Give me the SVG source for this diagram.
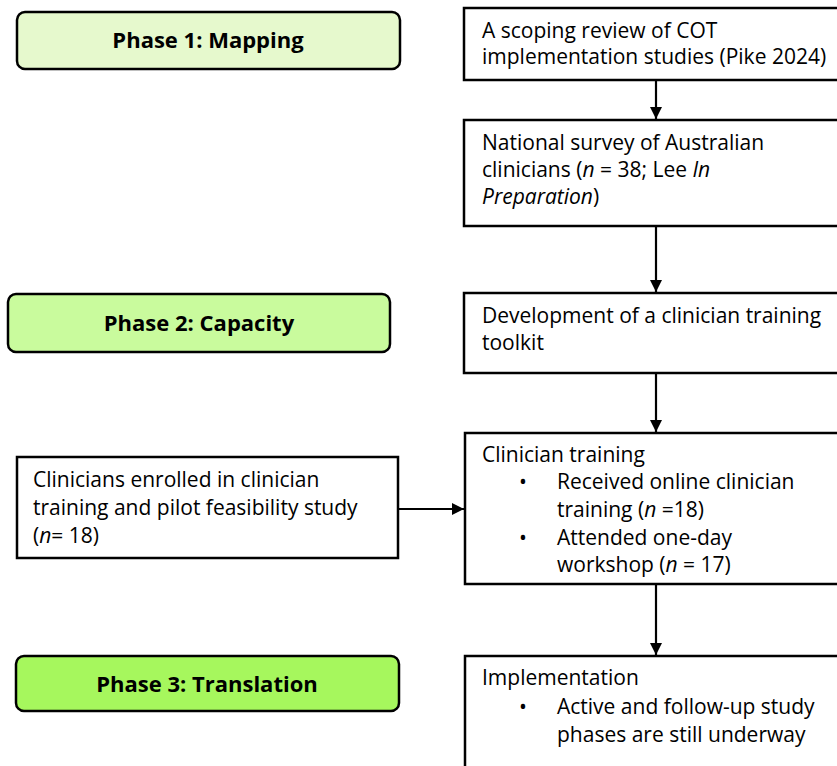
<svg xmlns="http://www.w3.org/2000/svg" width="837" height="766" viewBox="0 0 837 766">
<style>
text{font-family:"Open Sans","Liberation Sans",Arial,sans-serif;font-size:21px;fill:#000}
.ph{font-weight:bold;font-size:22px;text-anchor:middle}
.box{fill:#fff;stroke:#000;stroke-width:2.5}
.pb{stroke:#000;stroke-width:2.5}
.c{stroke:#000;stroke-width:2.2;fill:none}
</style>
<defs>
<marker id="ah" viewBox="0 0 10 10" refX="10" refY="5" markerWidth="5.5" markerHeight="5.8" orient="auto" markerUnits="strokeWidth">
<path d="M0,0 L10,5 L0,10 z" fill="#000"/>
</marker>
</defs>
<g id="phase1"><rect class="pb" x="17" y="12" width="383" height="57" rx="8" fill="#e6f9cd"/><text class="ph" x="208" y="48">Phase 1: Mapping</text></g>
<g id="phase2"><rect class="pb" x="8" y="294" width="382" height="58" rx="8" fill="#c9fb9d"/><text class="ph" x="199" y="331">Phase 2: Capacity</text></g>
<g id="phase3"><rect class="pb" x="16" y="656" width="383" height="55" rx="8" fill="#a6f75d"/><text class="ph" x="207" y="692">Phase 3: Translation</text></g>
<g id="scoping"><rect class="box" x="464" y="8" width="380" height="72"/><text x="482" y="38">A scoping review of COT</text><text x="482" y="64">implementation studies (Pike 2024)</text></g>
<g id="survey"><rect class="box" x="464" y="120" width="380" height="106"/><text x="482" y="150">National survey of Australian</text><text x="482" y="177">clinicians (<tspan font-style="italic">n</tspan> = 38; Lee <tspan font-style="italic">In</tspan></text><text x="482" y="204" font-style="italic">Preparation<tspan font-style="normal">)</tspan></text></g>
<g id="toolkit"><rect class="box" x="464" y="293" width="380" height="80"/><text x="482" y="323">Development of a clinician training</text><text x="482" y="350">toolkit</text></g>
<g id="training"><rect class="box" x="465" y="433" width="380" height="151"/><text x="482" y="462">Clinician training</text><text x="519" y="489">•</text><text x="557" y="489">Received online clinician</text><text x="557" y="517">training (<tspan font-style="italic">n</tspan> =18)</text><text x="519" y="545">•</text><text x="557" y="545">Attended one-day</text><text x="557" y="572">workshop (<tspan font-style="italic">n</tspan> = 17)</text></g>
<g id="enrolled"><rect class="box" x="17" y="457" width="381" height="101"/><text x="33" y="487">Clinicians enrolled in clinician</text><text x="33" y="515">training and pilot feasibility study</text><text x="33" y="543">(<tspan font-style="italic">n</tspan>= 18)</text></g>
<g id="implementation"><rect class="box" x="465" y="656" width="380" height="130"/><text x="482" y="685">Implementation</text><text x="519" y="714">•</text><text x="557" y="714">Active and follow-up study</text><text x="557" y="742">phases are still underway</text></g>
<g id="connectors">
<line class="c" x1="656" y1="80" x2="656" y2="119" marker-end="url(#ah)"/>
<line class="c" x1="656" y1="226" x2="656" y2="292" marker-end="url(#ah)"/>
<line class="c" x1="656" y1="373" x2="656" y2="432" marker-end="url(#ah)"/>
<line class="c" x1="656" y1="584" x2="656" y2="655" marker-end="url(#ah)"/>
<line class="c" x1="398" y1="509" x2="464" y2="509" marker-end="url(#ah)"/>
</g>
</svg>
